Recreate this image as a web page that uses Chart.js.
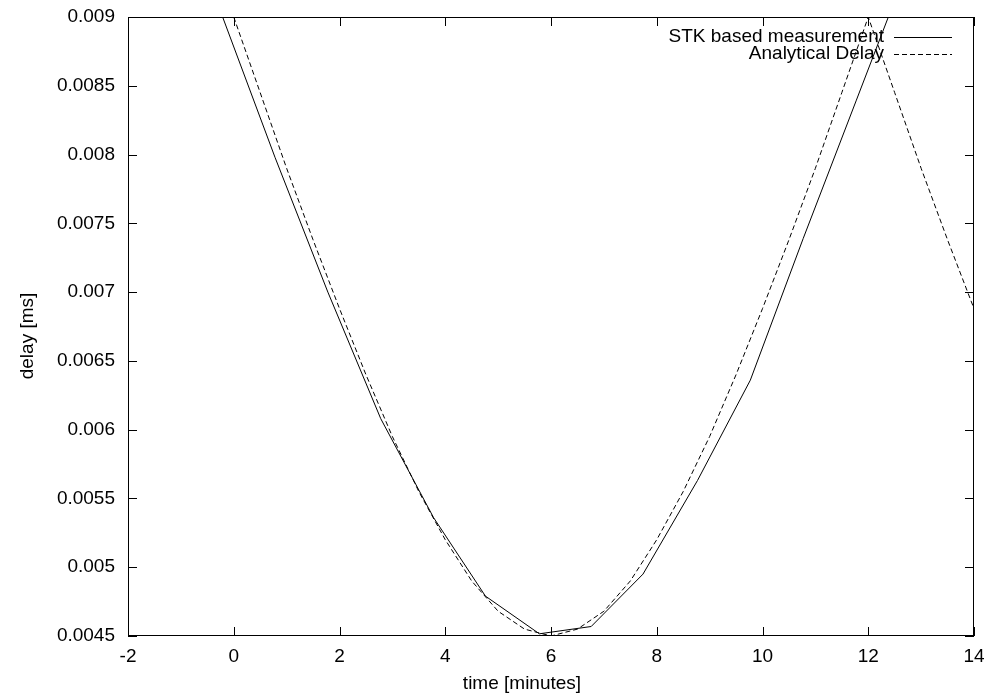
<!DOCTYPE html>
<html>
<head>
<meta charset="utf-8">
<script src="https://cdn.jsdelivr.net/npm/chart.js@4.4.1/dist/chart.umd.min.js"></script>
<style>
  html, body { margin: 0; padding: 0; background: #fff; }
  #wrap { width: 984px; height: 696px; position: relative; }
</style>
</head>
<body>
<div id="wrap"><canvas id="c" width="984" height="696"></canvas></div>
<script>
// ---- data ----
const stkTime  = [-0.22, 0.78, 1.78, 2.78, 3.78, 4.76, 5.78, 6.76, 7.74, 8.77, 9.77, 10.77, 11.77, 12.77];
const stkDelay = [0.00901, 0.00798, 0.00700, 0.00608, 0.00536, 0.00479, 0.004516, 0.004569, 0.00495, 0.00563, 0.00636, 0.00739, 0.00839, 0.00939];

const anaTime  = [0, 0.5, 1, 1.5, 2, 2.5, 3, 3.5, 4, 4.5, 5, 5.5, 6, 6.5, 7, 7.5, 8, 8.5, 9, 9.5, 10, 10.5, 11, 11.5, 12, 12.5, 13, 13.5, 14];
const anaDelay = [0.00900, 0.00845, 0.00790, 0.00738, 0.00688, 0.00640, 0.00595, 0.00555, 0.00520, 0.00490, 0.00468, 0.00455, 0.00450,
                  0.00455, 0.00468, 0.00490, 0.00520, 0.00555, 0.00595, 0.00640, 0.00688, 0.00738, 0.00790, 0.00845, 0.00900,
                  0.00845, 0.00790, 0.00738, 0.00688];

const xTicks = [-2, 0, 2, 4, 6, 8, 10, 12, 14];
const yTicks = [0.0045, 0.005, 0.0055, 0.006, 0.0065, 0.007, 0.0075, 0.008, 0.0085, 0.009];

const seriesNames = ['STK based measurement', 'Analytical Delay'];
const xTitle = 'time [minutes]';
const yTitle = 'delay [ms]';

// ---- build ----
const FONT = '"Liberation Sans", Arial, Helvetica, sans-serif';
const FS = 19;
const DASH = [5, 3];

const toPts = (xs, ys) => xs.map((x, i) => ({ x: x, y: ys[i] }));

const framePlugin = {
  id: 'frame',
  afterDraw(chart) {
    const ctx = chart.ctx, a = chart.chartArea;
    const xs = chart.scales.x, ys = chart.scales.y;
    ctx.save();
    ctx.strokeStyle = '#000';
    ctx.lineWidth = 1;
    ctx.setLineDash([]);
    ctx.strokeRect(Math.round(a.left) + 0.5, Math.round(a.top) + 0.5,
                   Math.round(a.right - a.left) - 1, Math.round(a.bottom - a.top) - 1);
    const L = 9;
    ctx.beginPath();
    xTicks.forEach(v => {
      const px = Math.round(xs.getPixelForValue(v)) + 0.5;
      ctx.moveTo(px, a.bottom); ctx.lineTo(px, a.bottom - L);
      ctx.moveTo(px, a.top); ctx.lineTo(px, a.top + L);
    });
    yTicks.forEach(v => {
      const py = Math.round(ys.getPixelForValue(v)) + 0.5;
      ctx.moveTo(a.left, py); ctx.lineTo(a.left + L, py);
      ctx.moveTo(a.right, py); ctx.lineTo(a.right - L, py);
    });
    ctx.stroke();

    // axis titles
    ctx.fillStyle = '#000';
    ctx.font = FS + 'px ' + FONT;
    ctx.textAlign = 'center';
    ctx.textBaseline = 'middle';
    ctx.fillText(xTitle, 522, 684);
    ctx.save();
    ctx.translate(28, 336);
    ctx.rotate(-Math.PI / 2);
    ctx.fillText(yTitle, 0, 0);
    ctx.restore();

    // legend (gnuplot style: right-aligned text, sample on the right)
    const rows = [{ y: 37, dash: [] }, { y: 54, dash: DASH }];
    ctx.textAlign = 'right';
    rows.forEach((r, i) => {
      ctx.fillText(seriesNames[i], 884, r.y);
      ctx.beginPath();
      ctx.setLineDash(r.dash);
      ctx.moveTo(894, r.y + 0.5);
      ctx.lineTo(952, r.y + 0.5);
      ctx.stroke();
    });
    ctx.restore();
  }
};

new Chart(document.getElementById('c'), {
  type: 'line',
  data: {
    datasets: [
      { label: seriesNames[0], data: toPts(stkTime, stkDelay), borderColor: '#000', borderWidth: 1,
        pointRadius: 0, tension: 0, fill: false },
      { label: seriesNames[1], data: toPts(anaTime, anaDelay), borderColor: '#000', borderWidth: 1,
        borderDash: DASH, pointRadius: 0, tension: 0, fill: false }
    ]
  },
  options: {
    responsive: false,
    animation: false,
    devicePixelRatio: 1,
    layout: { padding: { top: 17, right: 10, left: 0, bottom: 0 } },
    plugins: { legend: { display: false }, tooltip: { enabled: false } },
    scales: {
      x: {
        type: 'linear', min: -2, max: 14,
        afterBuildTicks: ax => { ax.ticks = xTicks.map(v => ({ value: v })); },
        afterFit: ax => { ax.height = 60; ax.paddingLeft = 0; ax.paddingRight = 0; },
        grid: { display: false, drawTicks: false },
        border: { display: false },
        ticks: { color: '#000', padding: 9, font: { family: FONT, size: FS },
                 callback: v => String(v), maxRotation: 0, autoSkip: false }
      },
      y: {
        type: 'linear', min: 0.0045, max: 0.009,
        afterBuildTicks: ax => { ax.ticks = yTicks.map(v => ({ value: v })); },
        afterFit: ax => { ax.width = 128; ax.paddingTop = 0; ax.paddingBottom = 0; },
        grid: { display: false, drawTicks: false },
        border: { display: false },
        ticks: { color: '#000', padding: 13, font: { family: FONT, size: FS },
                 callback: v => String(Number(v.toFixed(5))), autoSkip: false }
      }
    }
  },
  plugins: [framePlugin]
});
</script>
</body>
</html>
